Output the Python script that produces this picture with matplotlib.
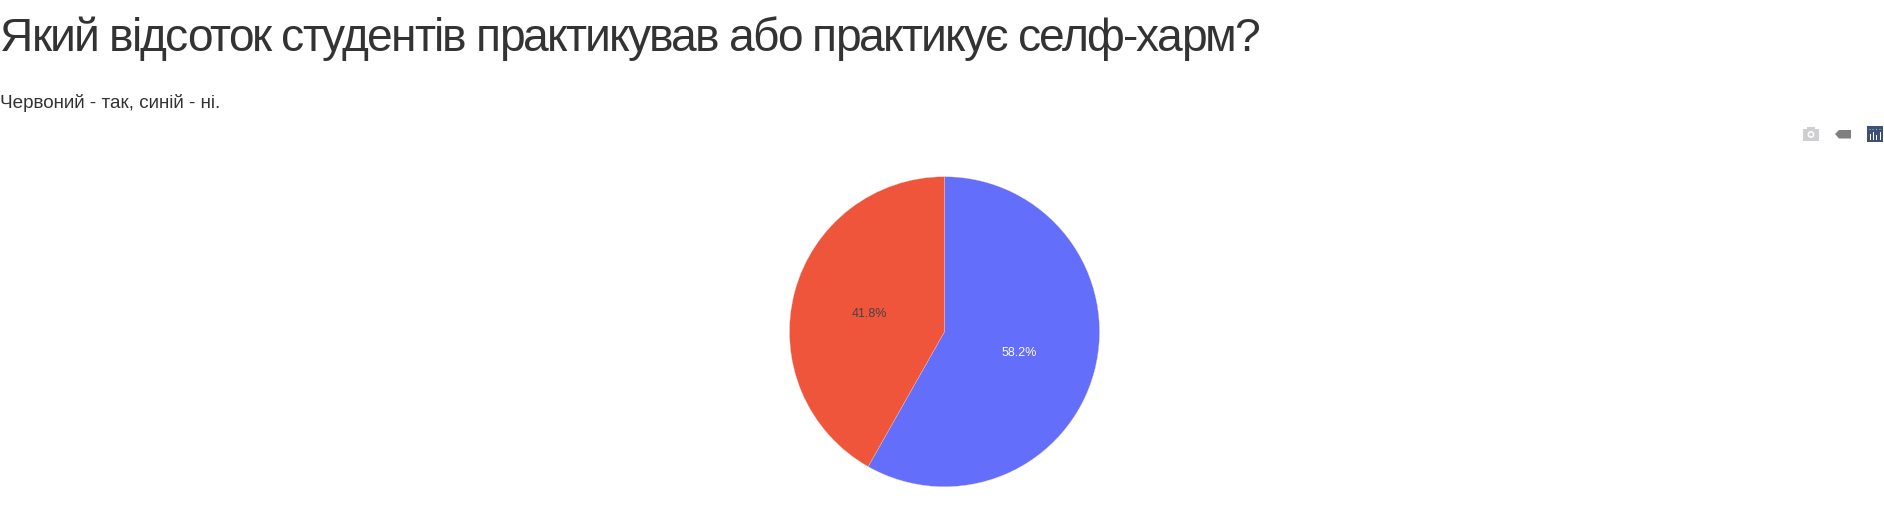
import matplotlib
matplotlib.use('Agg')
import matplotlib.pyplot as plt
from matplotlib.patches import Rectangle, Circle, Polygon

plt.rcParams['font.family'] = ['Liberation Sans', 'DejaVu Sans']

W, H = 1884, 528
title = 'Який відсоток студентів практикував або практикує селф-харм?'
subtitle = 'Червоний - так, синій - ні.'
labels = ['ні', 'так']
values = [58.2, 41.8]
colors = ['#636efa', '#ef553b']
label_colors = ['white', '#444444']

fig = plt.figure(figsize=(W / 100, H / 100), dpi=100, facecolor='white')

# overlay in pixel coords for the text and modebar icons
bg = fig.add_axes([0, 0, 1, 1])
bg.set_xlim(0, W)
bg.set_ylim(H, 0)
bg.axis('off')


def spaced_text(x, y, s, size, spacing):
    # matplotlib has no letter-spacing, so place the text glyph by glyph
    rend = fig.canvas.get_renderer()
    for i, ch in enumerate(s):
        t = bg.text(x, y, s[:i + 1], fontsize=size)
        w_all = t.get_window_extent(rend).width
        t.set_text(ch)
        w_ch = t.get_window_extent(rend).width
        t.remove()
        if ch != ' ':
            bg.text(x + w_all - w_ch + i * spacing, y, ch, fontsize=size, color='#333333',
                    va='baseline', ha='left')


spaced_text(0, 51, title, 33.2, -1.84)
bg.text(0, 103, subtitle, fontsize=13.6, color='#333333', va='center', ha='left')

# camera
bg.add_patch(Rectangle((1803, 128.5), 16, 12, color='#cfcfd2', lw=0))
bg.add_patch(Rectangle((1807, 126.5), 8, 3, color='#cfcfd2', lw=0))
bg.add_patch(Circle((1811, 134.5), 3.4, color='white', lw=0))
bg.add_patch(Circle((1811, 134.5), 1.8, color='#cfcfd2', lw=0))
# tag
bg.add_patch(Polygon([(1835, 134), (1839, 130), (1851, 130), (1851, 138.5), (1839, 138.5)], color='#7f7f7f', lw=0))
# plot logo
bg.add_patch(Rectangle((1867, 126), 16, 16, color='#3f4f75', lw=0))
for x, top in zip([1870, 1873, 1876.5, 1880], [134, 132, 135, 132]):
    bg.add_patch(Rectangle((x - 0.5, top), 1, 140 - top, color='white', lw=0))
for x in [1870, 1873, 1876.5, 1880]:
    bg.add_patch(Circle((x, 129.5), 0.6, color='#80cfbe', lw=0))

# pie, centre (944.5, 331.7), radius 155
r, cx, cy = 155, 944.5, 331.7
ax = fig.add_axes([(cx - r) / W, 1 - (cy + r) / H, 2 * r / W, 2 * r / H])
wedges, texts, autotexts = ax.pie(values, colors=colors, startangle=90, counterclock=False,
                                  radius=1, autopct='%.1f%%', pctdistance=0.5,
                                  wedgeprops={'edgecolor': '#f0d0d0', 'linewidth': 0.2},
                                  textprops={'fontsize': 9})
for t, c in zip(autotexts, label_colors):
    t.set_color(c)
    t.set_y(t.get_position()[1] - 0.01)
ax.set_xlim(-1, 1)
ax.set_ylim(-1, 1)

fig.savefig('out.png', dpi=100)
